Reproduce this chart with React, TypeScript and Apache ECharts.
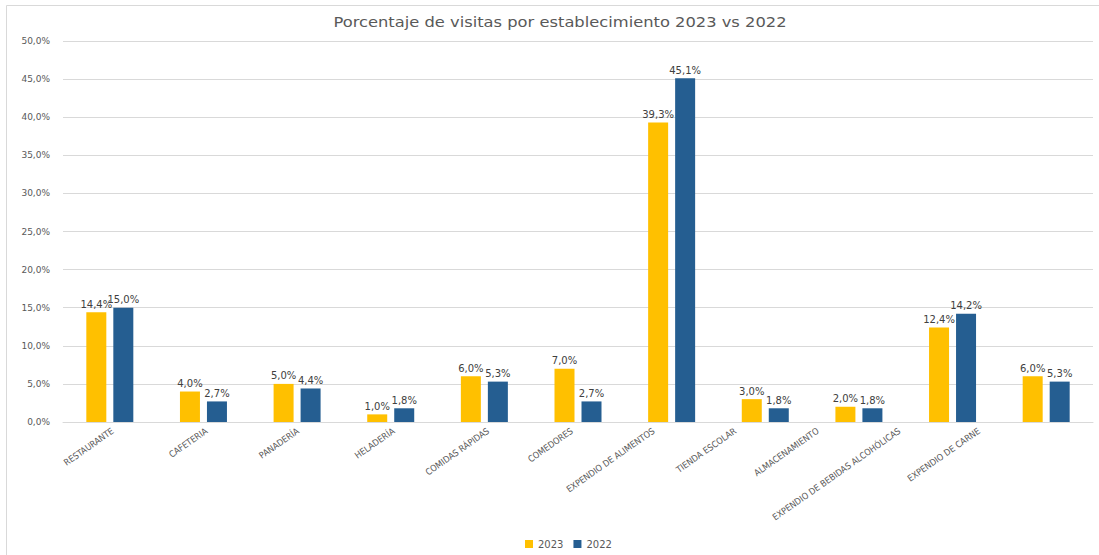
import React, { useEffect, useRef } from "react";
import * as echarts from "echarts";

const categories = [
  "RESTAURANTE",
  "CAFETERIA",
  "PANADERÍA",
  "HELADERÍA",
  "COMIDAS RÁPIDAS",
  "COMEDORES",
  "EXPENDIO DE ALIMENTOS",
  "TIENDA ESCOLAR",
  "ALMACENAMIENTO",
  "EXPENDIO DE BEBIDAS ALCOHÓLICAS",
  "EXPENDIO DE CARNE",
];
const values2023 = [14.4, 4.0, 5.0, 1.0, 6.0, 7.0, 39.3, 3.0, 2.0, 12.4, 6.0];
const values2022 = [15.0, 2.7, 4.4, 1.8, 5.3, 2.7, 45.1, 1.8, 1.8, 14.2, 5.3];
const seriesNames = ["2023", "2022"];
const title = "Porcentaje de visitas por establecimiento 2023 vs 2022";

// layout: horizontal shift (px) of each rotated category label's end from its tick
const labelShiftPx = [3, 3, 1, 3, 4, -6, -18, -30, -41, -53, -67];

const fmt = (v: number) => v.toFixed(1).replace(".", ",") + "%";

export default function App() {
  const ref = useRef<HTMLDivElement>(null);
  useEffect(() => {
    if (!ref.current) return;
    const chart = echarts.init(ref.current, null, { renderer: "svg" });
    const gridLeft = 63;
    const gridRight = 6;
    const n = categories.length;
    const bandPx = (1099 - gridLeft - gridRight) / n;
    const labelPos = categories.map((_, i) => i + 0.5 + labelShiftPx[i] / bandPx);
    const labelStyle = {
      show: true,
      position: "top" as const,
      distance: 3,
      color: "#404040",
      fontSize: 10,
      fontFamily: "DejaVu Sans",
      formatter: (p: any) => fmt(p.value),
    };
    chart.setOption({
      animation: false,
      backgroundColor: "#ffffff",
      textStyle: { fontFamily: "DejaVu Sans" },
      graphic: [
        {
          type: "rect",
          shape: { x: 6.5, y: 5.5, width: 1200, height: 700 },
          style: { fill: "none", stroke: "#D9D9D9", lineWidth: 1 },
          silent: true,
        },
        {
          type: "text",
          x: 560,
          y: 22,
          scaleX: 1.165,
          style: {
            text: title,
            fontFamily: "DejaVu Sans",
            fontSize: 14,
            fill: "#595959",
            align: "center",
            verticalAlign: "middle",
          },
          silent: true,
        },
      ],
      legend: {
        data: seriesNames,
        bottom: 1,
        left: 520,
        itemWidth: 8,
        itemHeight: 8,
        itemGap: 10,
        icon: "rect",
        textStyle: { fontSize: 10, color: "#595959", fontFamily: "DejaVu Sans" },
      },
      grid: { left: gridLeft, right: gridRight, top: 41, bottom: 133, containLabel: false },
      xAxis: [
        {
          type: "category",
          data: categories,
          axisLine: { lineStyle: { color: "#D9D9D9" } },
          axisTick: { show: false },
          axisLabel: { show: false },
        },
        {
          type: "value",
          position: "bottom",
          min: 0,
          max: n,
          axisLine: { show: false },
          axisTick: { show: false },
          splitLine: { show: false },
          axisLabel: {
            customValues: labelPos,
            rotate: 35,
            color: "#595959",
            fontSize: 9,
            fontFamily: "DejaVu Sans Condensed",
            margin: 8,
            formatter: (v: number) => {
              const idx = labelPos.findIndex((p) => Math.abs(p - v) < 1e-6);
              return idx >= 0 ? categories[idx] : "";
            },
          },
        },
      ],
      yAxis: {
        type: "value",
        min: 0,
        max: 50,
        interval: 5,
        axisLine: { show: false },
        axisTick: { show: false },
        splitLine: { lineStyle: { color: "#D9D9D9" } },
        axisLabel: {
          formatter: (v: number) => fmt(v),
          fontSize: 9,
          color: "#595959",
          fontFamily: "DejaVu Sans",
          margin: 13,
        },
      },
      series: [
        {
          name: seriesNames[0],
          type: "bar",
          data: values2023,
          barWidth: 20,
          barGap: "35%",
          itemStyle: { color: "#FFC000" },
          label: labelStyle,
        },
        {
          name: seriesNames[1],
          type: "bar",
          data: values2022,
          barWidth: 20,
          itemStyle: { color: "#255E91" },
          label: labelStyle,
        },
      ],
    });
    return () => chart.dispose();
  }, []);
  return (
    <div
      ref={ref}
      style={{ position: "absolute", left: 0, top: 0, width: 1099, height: 555 }}
    />
  );
}
